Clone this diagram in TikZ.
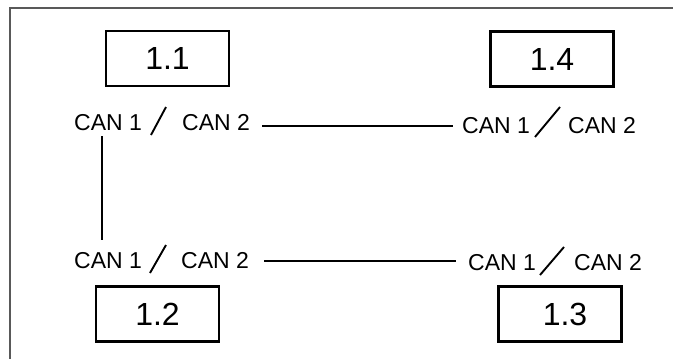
\documentclass[tikz,border=0pt]{standalone}
\usepackage{fontspec}
\setmainfont{Liberation Sans}
\begin{document}
\begin{tikzpicture}[x=1pt,y=-1pt,
  unitbox/.style={draw,line width=2.2pt,minimum width=123pt,minimum height=55pt,inner sep=0pt,font=\fontsize{32}{32}\selectfont},
  canlbl/.style={inner sep=0pt,anchor=base west,font=\fontsize{23}{23}\selectfont},
  wire/.style={line width=2.1pt},
  slash/.style={line width=1.9pt}]
\useasboundingbox (0,0) rectangle (673,359);
% frame
\draw[black!65,line width=1.3pt] (10,360) -- (10,8) -- (674,8);
% units
\node[unitbox] (u11) at (167.5,58.5) {1.1};
\node[unitbox] (u14) at (552,59) {1.4};
\node[unitbox] (u12) at (157.5,314) {1.2};
\node[unitbox] (u13) at (560,314) {\hspace{10pt}1.3};
% CAN labels
\node[canlbl] (tl1) at (74,130) {CAN 1};
\node[canlbl] (tl2) at (182,130) {CAN 2};
\draw[slash] (151,135) -- (166,107);
\node[canlbl] (tr1) at (462,133) {CAN 1};
\node[canlbl] (tr2) at (568,133) {CAN 2};
\draw[slash] (535,137) -- (560,107);
\node[canlbl] (bl1) at (74,268) {CAN 1};
\node[canlbl] (bl2) at (181,268) {CAN 2};
\draw[slash] (150,273) -- (166,245);
\node[canlbl] (br1) at (468,270) {CAN 1};
\node[canlbl] (br2) at (574,270) {CAN 2};
\draw[slash] (540,275) -- (564,247);
% connectors
\coordinate (ta) at ([xshift=12pt,yshift=4pt]tl2.base east);
\draw[wire] (ta) -- ([xshift=-9pt]tr1.west |- ta);
\coordinate (ba) at ([xshift=15pt,yshift=7pt]bl2.base east);
\draw[wire] (ba) -- ([xshift=-12pt]br1.west |- ba);
\coordinate (va) at ([xshift=28pt,yshift=-6pt]tl1.base west);
\coordinate (vb) at ([yshift=12pt]bl1.north);
\draw[wire] (va) -- (va |- vb);
\end{tikzpicture}
\end{document}
